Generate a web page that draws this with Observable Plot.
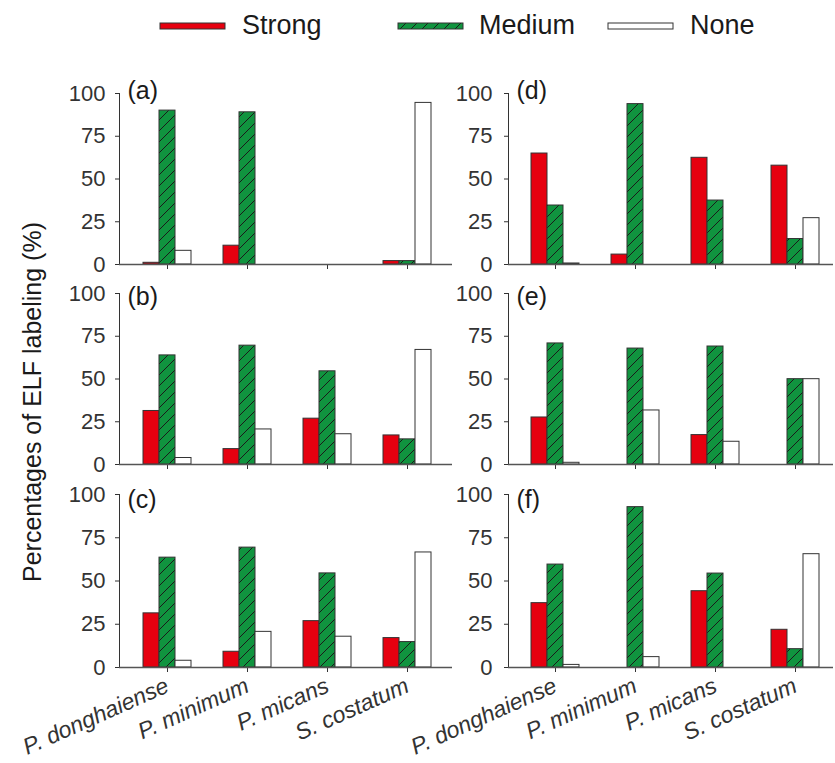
<!DOCTYPE html>
<html><head><meta charset="utf-8">
<script src="https://cdn.jsdelivr.net/npm/d3@7"></script>
<script src="https://cdn.jsdelivr.net/npm/@observablehq/plot@0.6"></script>
<style>
html,body{margin:0;padding:0;background:#fff;}
#chart{position:relative;width:835px;height:763px;overflow:hidden;font-family:"Liberation Sans",Arial,sans-serif;color:#1a1a1a;background:#fff;}
.panel{position:absolute;}
.panel svg{overflow:visible;max-width:none;}
.panel [aria-label="x-axis tick label"] text, .panel [aria-label="x-axis"] text{font-style:italic;font-size:23px;}
#ylabel{position:absolute;left:32px;top:402px;transform:translate(-50%,-50%) rotate(-90deg);white-space:nowrap;font-size:25px;}
#legend{position:absolute;left:0;top:0;}
</style></head><body><div id="chart"></div>
<script>
// ---- data ----
const species = ["P. donghaiense", "P. minimum", "P. micans", "S. costatum"];
const types = ["Strong", "Medium", "None"];
const panelLabels = ["(a)", "(b)", "(c)", "(d)", "(e)", "(f)"];
const yTicks = [0, 25, 50, 75, 100];
const yLabel = "Percentages of ELF labeling (%)";

const aStrong = [1, 11, 0, 2];
const aMedium = [90, 89, 0, 2];
const aNone   = [8, 0, 0, 94.5];

const bStrong = [31.3, 9, 26.8, 17];
const bMedium = [63.8, 69.5, 54.5, 14.7];
const bNone   = [3.8, 20.5, 17.7, 67];

const cStrong = [31.3, 9.1, 26.8, 17];
const cMedium = [63.5, 69.3, 54.4, 14.7];
const cNone   = [3.9, 20.6, 17.8, 66.5];

const dStrong = [64.9, 5.8, 62.4, 57.8];
const dMedium = [34.5, 93.8, 37.4, 14.9];
const dNone   = [0.6, 0, 0, 27.1];

const eStrong = [27.5, 0, 17.2, 0];
const eMedium = [70.8, 67.8, 69, 49.9];
const eNone   = [1, 31.6, 13.3, 49.9];

const fStrong = [37.2, 0, 44.1, 21.8];
const fMedium = [59.5, 92.7, 54.3, 10.6];
const fNone   = [1.5, 6, 0, 65.5];

// ---- style ----
const RED = "#e6000f", GREEN = "#10943f";

const chart = document.getElementById("chart");

function hatchDefs(id) {
  const defs = d3.create("svg:defs");
  const p = defs.append("pattern").attr("id", id).attr("patternUnits", "userSpaceOnUse")
    .attr("width", 11).attr("height", 11);
  p.append("rect").attr("width", 11).attr("height", 11).attr("fill", GREEN);
  p.append("path").attr("d", "M0,11L11,0M-1,1L1,-1M10,12L12,10")
    .attr("stroke", "#1a1a1a").attr("stroke-width", 1);
  return defs;
}

// legend
(function () {
  const svg = d3.create("svg").attr("id", "legend").attr("width", 835).attr("height", 50);
  svg.append(() => hatchDefs("hatch-legend").node());
  const items = [
    {name: types[0], fill: RED, x: 160, tx: 242},
    {name: types[1], fill: "url(#hatch-legend)", x: 398, tx: 479},
    {name: types[2], fill: "#ffffff", x: 608, tx: 690}
  ];
  for (const it of items) {
    svg.append("rect").attr("x", it.x).attr("y", 23).attr("width", 65).attr("height", 6)
      .attr("fill", it.fill).attr("stroke", "#333").attr("stroke-width", 1);
    svg.append("text").attr("x", it.tx).attr("y", 34).attr("font-size", 27)
      .attr("font-family", "Liberation Sans, Arial, sans-serif").attr("fill", "#1a1a1a").text(it.name);
  }
  chart.appendChild(svg.node());
})();

// y label
const yl = document.createElement("div");
yl.id = "ylabel"; yl.textContent = yLabel;
chart.appendChild(yl);

// x domain: groups of 3 bars separated by two empty bands
const xDomain = [];
species.forEach((s, i) => {
  if (i > 0) xDomain.push(`gap${i}a`, `gap${i}b`);
  types.forEach(t => xDomain.push(`${s}|${t}`));
});
const tickKeys = species.map(s => `${s}|Medium`);

const rowsLayout = [
  {top: 70, mt: 23, h: 204, mb: 10, dy: -3},
  {top: 270, mt: 23, h: 204, mb: 10, dy: 3},
  {top: 470, mt: 24, h: 293, mb: 96, dy: 5}
];
const colsLayout = [
  {left: 0, w: 460, ml: 119, mr: 8, il: 18, ir: 14.5, tp: 10},
  {left: 375, w: 460, ml: 133, mr: 2, il: 15.3, ir: 6.3, tp: 12}
];

const panels = [
  {label: panelLabels[0], s: aStrong, m: aMedium, n: aNone, col: 0, row: 0},
  {label: panelLabels[1], s: bStrong, m: bMedium, n: bNone, col: 0, row: 1},
  {label: panelLabels[2], s: cStrong, m: cMedium, n: cNone, col: 0, row: 2},
  {label: panelLabels[3], s: dStrong, m: dMedium, n: dNone, col: 1, row: 0},
  {label: panelLabels[4], s: eStrong, m: eMedium, n: eNone, col: 1, row: 1},
  {label: panelLabels[5], s: fStrong, m: fMedium, n: fNone, col: 1, row: 2}
];

panels.forEach((p, pi) => {
  const R = rowsLayout[p.row], C = colsLayout[p.col];
  const bottom = p.row === 2;
  const hid = `hatch-${pi}`;
  const series = {Strong: p.s, Medium: p.m, None: p.n};
  const fills = {Strong: RED, Medium: `url(#${hid})`, None: "#ffffff"};
  const data = [];
  types.forEach(t => species.forEach((s, i) => {
    if (series[t][i] > 0) data.push({key: `${s}|${t}`, type: t, value: series[t][i]});
  }));
  const plot = Plot.plot({
    width: C.w, height: R.h,
    marginLeft: C.ml, marginRight: C.mr, marginTop: R.mt, marginBottom: R.mb,
    style: {fontFamily: "Liberation Sans, Arial, sans-serif", fontSize: "22px", color: "#333", background: "transparent", overflow: "visible"},
    x: {domain: xDomain, padding: 0, insetLeft: C.il, insetRight: C.ir, ticks: tickKeys,
        tickFormat: k => bottom ? k.split("|")[0] : "", tickSize: 5, tickPadding: 12,
        tickRotate: bottom ? -24 : 0, label: null},
    y: {domain: [0, 100], ticks: yTicks, tickSize: 4, tickPadding: C.tp, line: true, label: null},
    marks: [
      () => hatchDefs(hid).node(),
      ...types.map(t => Plot.barY(data.filter(d => d.type === t),
        {x: "key", y: "value", fill: fills[t], stroke: "#333", strokeWidth: 1})),
      Plot.ruleY([0], {stroke: "#555", strokeWidth: 1.3}),
      Plot.text([p.label], {frameAnchor: "top-left", lineAnchor: "middle", dx: 8, dy: R.dy, fontSize: 25, textAnchor: "start", fill: "#1a1a1a"})
    ]
  });
  const wrap = document.createElement("div");
  wrap.className = "panel";
  wrap.style.left = C.left + "px";
  wrap.style.top = R.top + "px";
  wrap.style.width = C.w + "px";
  wrap.appendChild(plot);
  chart.appendChild(wrap);
});
</script>
</body></html>
